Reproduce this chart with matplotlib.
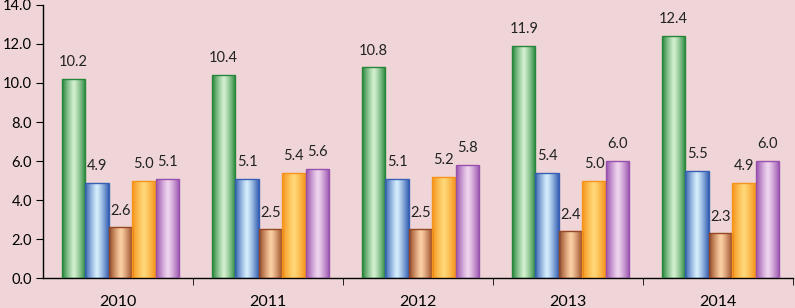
import numpy as np
import matplotlib
matplotlib.use('Agg')
import matplotlib.pyplot as plt
from matplotlib import rcParams
from matplotlib.colors import LinearSegmentedColormap

rcParams['font.family'] = 'sans-serif'
rcParams['font.sans-serif'] = ['Lato']
rcParams['font.size'] = 10.5

years = ['2010', '2011', '2012', '2013', '2014']
green = [10.2, 10.4, 10.8, 11.9, 12.4]
blue = [4.9, 5.1, 5.1, 5.4, 5.5]
brown = [2.6, 2.5, 2.5, 2.4, 2.3]
orange = [5.0, 5.4, 5.2, 5.0, 4.9]
purple = [5.1, 5.6, 5.8, 6.0, 6.0]

series = [green, blue, brown, orange, purple]
# (edge, centre) colours for the cylinder look
shades = [('#26863a', '#d4f0d0'),
          ('#3660b4', '#d4eefc'),
          ('#964620', '#fcd0a4'),
          ('#f5931a', '#ffd878'),
          ('#9850ae', '#f0d6ee')]

bg = '#efd5d7'
fig = plt.figure(figsize=(7.95, 3.08), dpi=100, facecolor=bg)
ax = fig.add_axes([0.054, 0.097, 0.9435, 0.887], facecolor=bg)

x = np.arange(len(years))
w = 0.156
grad = np.abs(np.linspace(-1, 1, 64))[None, :] ** 1.2

for i, vals in enumerate(series):
    edge, centre = shades[i]
    cmap = LinearSegmentedColormap.from_list('c%d' % i, [centre, edge])
    bars = ax.bar(x + (i - 2) * w + 0.017, vals, w, color='none',
                  edgecolor=edge, linewidth=1.0, zorder=3)
    for b, v in zip(bars, vals):
        im = ax.imshow(grad, cmap=cmap, aspect='auto', zorder=2,
                       extent=[b.get_x(), b.get_x() + b.get_width(), 0, v],
                       vmin=0, vmax=1)
        im.set_clip_path(b)
        ax.annotate('%.1f' % v, xy=(b.get_x() + b.get_width() / 2, v),
                    xytext=(0, 7), textcoords='offset points',
                    ha='center', va='bottom', color='#222222')

ax.set_xlim(-0.5, len(years) - 0.5)
ax.set_ylim(0, 14)
ax.set_yticks(np.arange(0, 14.1, 2))
ax.set_yticklabels(['%.1f' % t for t in np.arange(0, 14.1, 2)])
ax.set_xticks(x)
ax.set_xticklabels(years, fontsize=11.5)
ax.set_xticks(np.arange(0.5, len(years), 1), minor=True)
ax.tick_params(axis='x', which='major', length=0, pad=12)
ax.tick_params(axis='x', which='minor', length=5, direction='out')
ax.tick_params(axis='y', length=5, direction='out', pad=3)

for s in ['top', 'right']:
    ax.spines[s].set_visible(False)
ax.spines['left'].set_linewidth(1.0)
ax.spines['bottom'].set_linewidth(1.0)

plt.savefig('out.png', dpi=100, facecolor=bg)
